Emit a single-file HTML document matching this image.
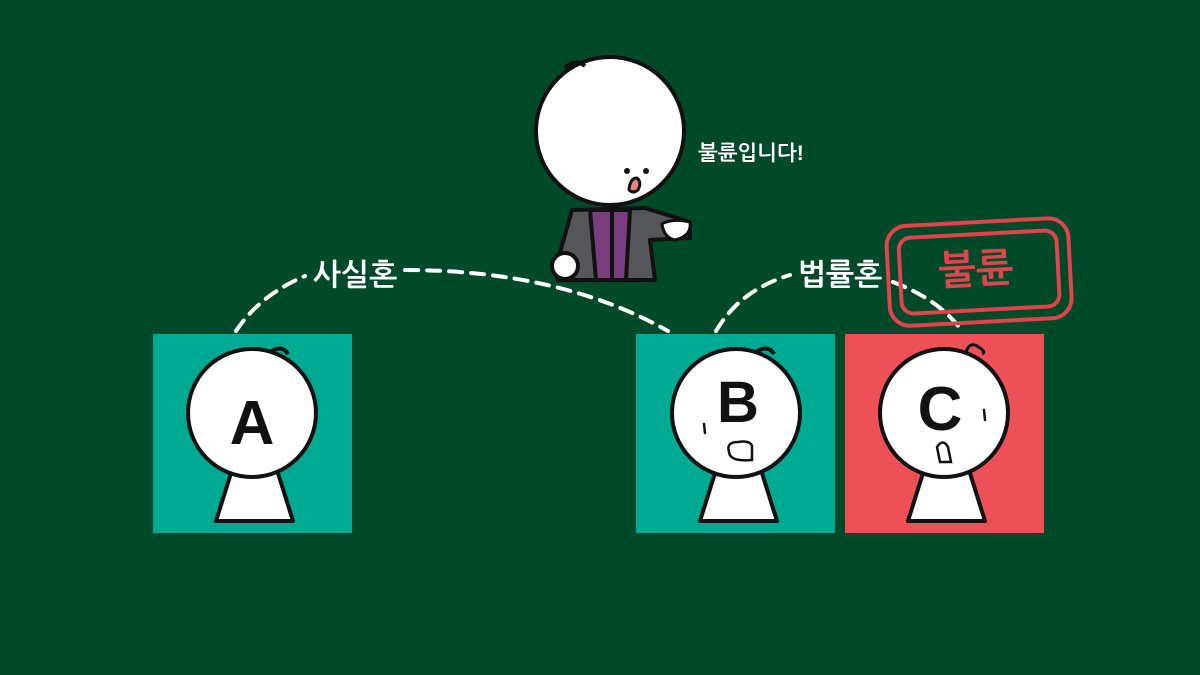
<!DOCTYPE html>
<html><head><meta charset="utf-8"><style>
html,body{margin:0;padding:0;background:#004a2a;}
svg{display:block}
text{font-family:"Liberation Sans","NanumGothic","Noto Sans CJK KR",sans-serif;font-weight:bold}
</style></head><body>
<svg width="1200" height="675" viewBox="0 0 1200 675">
<rect width="1200" height="675" fill="#004a2a"/>
<!-- dashed links -->
<g fill="none" stroke="#fff" stroke-width="4" stroke-dasharray="13,9" stroke-linecap="round">
<path d="M236,331 Q260,295 305,276"/>
<path d="M405,270 Q560,270 668,331"/>
<path d="M716,331 Q740,290 790,275"/>
<path d="M893,282 Q940,300 962,331"/>
</g>
<text x="355" y="285" font-size="30" fill="#fff" text-anchor="middle">사실혼</text>
<text x="840" y="285" font-size="30" fill="#fff" text-anchor="middle">법률혼</text>
<!-- stamp -->
<g transform="rotate(-3 980 270)" fill="none" stroke="#e0444c" stroke-width="4">
<rect x="888" y="222" width="182" height="100" rx="20"/>
<rect x="900" y="234" width="158" height="76" rx="12"/>
</g>
<text x="976" y="283" font-size="40" fill="#e0444c" text-anchor="middle" transform="rotate(-3 976 270)">불륜</text>
<!-- boxes -->
<rect x="153" y="334" width="199" height="199" fill="#00a991"/>
<rect x="636" y="334" width="199" height="199" fill="#00a991"/>
<rect x="845" y="334" width="199" height="199" fill="#ee5058"/>
<!-- persons -->
<g stroke="#111" stroke-width="4" fill="#fff" stroke-linejoin="round">
<path d="M232,470 L216,521 L293,521 L277,470 Z"/>
<circle cx="252" cy="413" r="64"/>
<path d="M270,352 Q282,344 288,354" fill="none"/>
<path d="M716,470 L700,521 L777,521 L761,470 Z"/>
<circle cx="736" cy="413" r="64"/>
<path d="M756,352 Q768,344 774,354" fill="none"/>
<path d="M924,470 L908,521 L985,521 L969,470 Z"/>
<circle cx="944" cy="413" r="64"/>
<path d="M966,352 Q970,340 980,348 Q986,352 982,354" fill="none" stroke-width="3"/>
</g>
<text x="252" y="444" font-size="62" fill="#111" text-anchor="middle">A</text>
<text x="738" y="422" font-size="58" fill="#111" text-anchor="middle">B</text>
<text x="940" y="430" font-size="62" fill="#111" text-anchor="middle">C</text>
<g fill="none" stroke="#111" stroke-width="2.5" stroke-linecap="round">
<path d="M704,424 L705,433"/>
<path d="M738,442 Q726,442 729,452 Q730,462 752,460 L752,446 Q750,440 738,442" />
<path d="M984,410 L985,420"/>
<path d="M940,462 L937,447 Q943,438 948,447 L951,462 Z"/>
</g>
<!-- judge -->
<g stroke="#111" stroke-width="4" stroke-linejoin="round">
<path d="M572,210 L555,270 L558,280 L655,280 L650,240 L690,238 L690,222 L645,208 Z" fill="#555659"/>
<path d="M590,210 L596,280 L626,280 L630,210 Z" fill="#7a3d7e"/>
<path d="M612,212 L612,280" fill="none"/>
<path d="M662,224 Q672,218 690,222 Q692,236 675,240 Q664,238 662,224 Z" fill="#fff" stroke-width="3"/>
<circle cx="565" cy="266" r="13" fill="#fff"/>
<circle cx="610" cy="131" r="74" fill="#fff"/>
<path d="M565,68 Q575,58 585,66" fill="none"/>
<circle cx="627" cy="171" r="3" fill="#111" stroke="none"/>
<circle cx="646" cy="171" r="3" fill="#111" stroke="none"/>
<path d="M629,190 Q630,178 637,178 Q642,182 638,190 Q633,194 629,190 Z" fill="#f08080" stroke-width="3"/>
</g>
<text x="698" y="160" font-size="21" fill="#fff">불륜입니다!</text>
</svg>
</body></html>
